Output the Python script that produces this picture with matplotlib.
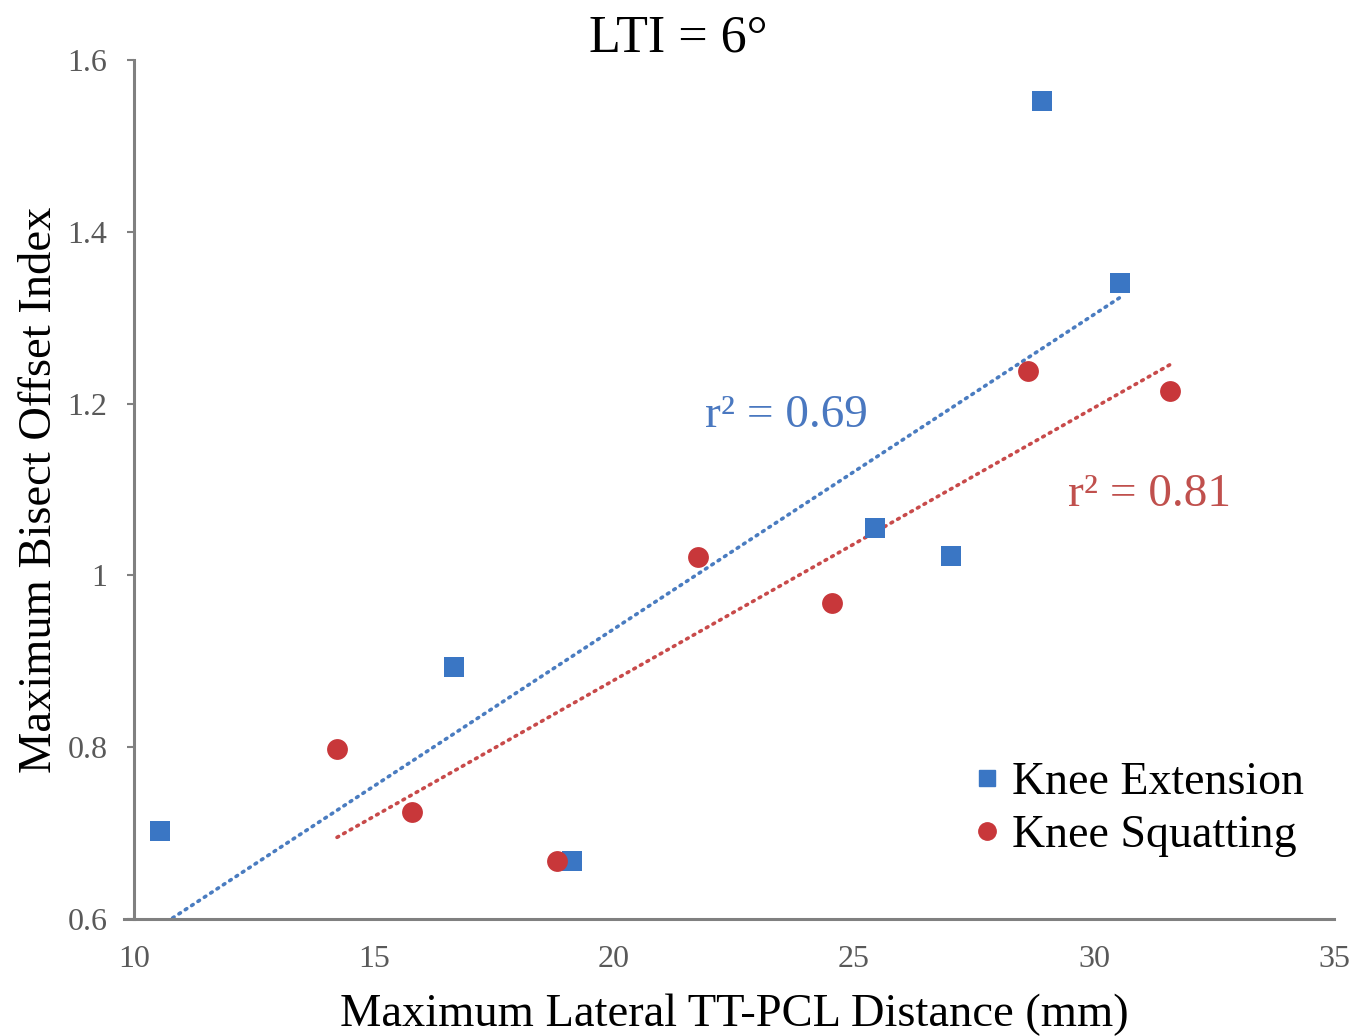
import matplotlib
matplotlib.use("Agg")
import matplotlib.pyplot as plt
from matplotlib.lines import Line2D
import numpy as np

plt.rcParams['font.family'] = ['Liberation Serif', 'DejaVu Serif']

# Data
ext_x = [10.54, 16.67, 19.12, 25.44, 27.02, 28.92, 30.54]
ext_y = [0.702, 0.893, 0.667, 1.055, 1.023, 1.552, 1.340]
squat_x = [14.23, 15.79, 18.81, 21.75, 24.54, 28.62, 31.58]
squat_y = [0.798, 0.725, 0.667, 1.021, 0.968, 1.238, 1.215]
series_labels = ["Knee Extension", "Knee Squatting"]
r2_labels = ["r\u00b2 = 0.69", "r\u00b2 = 0.81"]
title = "LTI = 6\u00b0"
xlabel = "Maximum Lateral TT-PCL Distance (mm)"
ylabel = "Maximum Bisect Offset Index"
yticks = [0.6, 0.8, 1.0, 1.2, 1.4, 1.6]
yticklabels = ["0.6", "0.8", "1", "1.2", "1.4", "1.6"]
xticks = [10, 15, 20, 25, 30, 35]

blue = "#3A76C4"
red = "#C8373A"
blue_line = "#4A7CC0"
red_line = "#C84A4A"

fig = plt.figure(figsize=(13.7, 10.36), dpi=100)
ax = fig.add_axes([0.0978, 0.1129, 0.8759, 0.8292])

# Trend lines
for xs, ys, col in [(ext_x, ext_y, blue_line), (squat_x, squat_y, red_line)]:
    xs_a = np.array(xs); ys_a = np.array(ys)
    m, b = np.polyfit(xs_a, ys_a, 1)
    xx = np.array([xs_a.min(), xs_a.max()])
    ax.plot(xx, m * xx + b, color=col, lw=2.6, linestyle=(0, (0.5, 1.6)),
            dash_capstyle='round', zorder=2)

ax.scatter(ext_x, ext_y, marker='s', s=14**2, color=blue, zorder=3, linewidths=0)
ax.scatter(squat_x, squat_y, marker='o', s=15**2, color=red, zorder=3, linewidths=0)

ax.set_xlim(10, 35)
ax.set_ylim(0.6, 1.6)
ax.set_yticks(yticks)
ax.set_yticklabels(yticklabels)
ax.set_xticks(xticks)
ax.set_xticklabels([str(t) for t in xticks])
ax.tick_params(axis='x', length=0, pad=19, labelsize=23, labelcolor="#595959")
ax.tick_params(axis='y', length=5, width=1.5, color="#808080", pad=14,
               labelsize=23, labelcolor="#595959")
for s in ['top', 'right']:
    ax.spines[s].set_visible(False)
for s in ['left', 'bottom']:
    ax.spines[s].set_color("#808080")
    ax.spines[s].set_linewidth(2.2)
ax.spines['bottom'].set_bounds(10 - 0.2, 35)
ax.spines['bottom'].set_clip_on(False)

ax.set_xlabel(xlabel, fontsize=33.5, labelpad=14)
ax.set_ylabel(ylabel, fontsize=33.5, labelpad=5)
fig.text(0.495, 0.963, title, fontsize=37.5, ha='center', va='center')

ax.text(0.4755, 0.5855, r2_labels[0], transform=ax.transAxes, fontsize=34,
        color="#4A78C0", ha='left', va='center')
ax.text(0.7785, 0.4935, r2_labels[1], transform=ax.transAxes, fontsize=34,
        color="#C0504D", ha='left', va='center')

handles = [Line2D([], [], marker='s', color=blue, ls='none', markersize=11.5),
           Line2D([], [], marker='o', color=red, ls='none', markersize=12.5)]
ax.legend(handles, series_labels, loc='center left',
          bbox_to_anchor=(0.686, 0.128), frameon=False, fontsize=33,
          handlelength=0.5, handletextpad=0.3, labelspacing=0.22,
          borderaxespad=0)

fig.savefig("out.png", dpi=100)
